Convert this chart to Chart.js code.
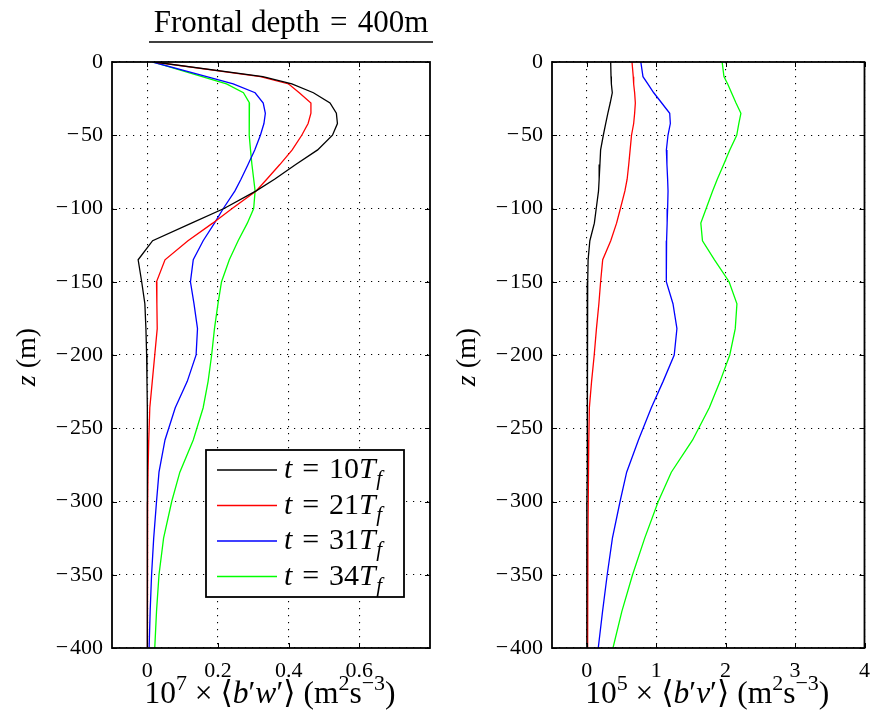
<!DOCTYPE html>
<html><head><meta charset="utf-8">
<script src="https://cdn.jsdelivr.net/npm/chart.js@4/dist/chart.umd.min.js"></script>
<style>
html,body{margin:0;padding:0;background:#fff;}
#wrap{position:relative;width:880px;height:722px;overflow:hidden;}
.pane{position:absolute;top:0;width:440px;height:722px;}
</style></head><body>
<div id="wrap">
<div class="pane" style="left:0"><canvas id="c1" width="440" height="722"></canvas></div>
<div class="pane" style="left:440px"><canvas id="c2" width="440" height="722"></canvas></div>
</div>
<script>
// ---- data (depth in m) ----
const depth = [0, -10, -15, -21, -28, -35, -42, -50, -60, -70, -80, -88, -100, -110, -122, -135, -150, -165, -182, -200, -218, -236, -258, -280, -300, -325, -350, -375, -400];
const times = [10, 21, 31, 34];
const colors = ['#000000', '#ff0000', '#0000ff', '#00ff00'];

// 10^7 x <b'w'>
const bwT10 = [0.02, 0.327, 0.409, 0.47, 0.517, 0.535, 0.538, 0.524, 0.482, 0.42, 0.36, 0.308, 0.217, 0.125, 0.015, -0.026, -0.016, -0.007, -0.004, -0.002, -0.001, 0, 0, 0, 0, 0, 0, 0, 0];
const bwT21 = [0.02, 0.32, 0.40, 0.43, 0.463, 0.463, 0.455, 0.437, 0.41, 0.375, 0.338, 0.308, 0.24, 0.185, 0.115, 0.05, 0.026, 0.027, 0.028, 0.021, 0.014, 0.007, 0.004, 0.002, 0.001, 0.001, 0, 0, 0];
const bwT31 = [0.015, 0.168, 0.243, 0.305, 0.328, 0.334, 0.33, 0.32, 0.304, 0.285, 0.265, 0.248, 0.215, 0.19, 0.158, 0.13, 0.122, 0.132, 0.142, 0.138, 0.113, 0.079, 0.05, 0.033, 0.026, 0.018, 0.012, 0.008, 0.005];
const bwT34 = [0.015, 0.155, 0.224, 0.272, 0.289, 0.289, 0.288, 0.288, 0.292, 0.296, 0.301, 0.305, 0.301, 0.283, 0.257, 0.232, 0.21, 0.2, 0.19, 0.182, 0.172, 0.158, 0.13, 0.092, 0.069, 0.046, 0.033, 0.026, 0.021];

// 10^5 x <b'v'>
const bvT10 = [0.345, 0.35, 0.355, 0.368, 0.338, 0.304, 0.273, 0.239, 0.2, 0.19, 0.179, 0.17, 0.137, 0.11, 0.045, 0.02, 0.014, 0.012, 0.01, 0.01, 0.008, 0.007, 0.005, 0.004, 0.003, 0.002, 0.002, 0.001, 0.0];
const bvT21 = [0.652, 0.67, 0.676, 0.69, 0.7, 0.69, 0.676, 0.645, 0.625, 0.605, 0.582, 0.55, 0.485, 0.43, 0.346, 0.23, 0.2, 0.175, 0.14, 0.108, 0.07, 0.038, 0.03, 0.024, 0.02, 0.017, 0.015, 0.013, 0.012];
const bvT31 = [0.779, 0.81, 0.88, 0.965, 1.08, 1.195, 1.204, 1.17, 1.147, 1.155, 1.165, 1.171, 1.165, 1.158, 1.15, 1.145, 1.147, 1.242, 1.299, 1.26, 1.1, 0.93, 0.745, 0.575, 0.48, 0.37, 0.295, 0.228, 0.166];
const bvT34 = [1.95, 1.976, 2.03, 2.085, 2.15, 2.22, 2.19, 2.16, 2.06, 1.972, 1.88, 1.813, 1.72, 1.643, 1.667, 1.84, 2.05, 2.163, 2.139, 2.06, 1.92, 1.765, 1.525, 1.218, 1.03, 0.835, 0.66, 0.506, 0.378];

// ticks
const bwTicks = [0, 0.2, 0.4, 0.6];
const bvTicks = [0, 1, 2, 3, 4];
const zTicks = [0, -50, -100, -150, -200, -250, -300, -350, -400];

// ---- helpers ----
const FF = '"Liberation Serif", "DejaVu Serif", serif';
function runFont(r, size) {
  const s = (r.sup || r.sub) ? size * 0.7 : size;
  return (r.it ? 'italic ' : '') + s.toFixed(1) + 'px ' + FF;
}
function runAdvance(ctx, r, size) {
  if (r.gap !== undefined) return r.gap * size;
  ctx.font = runFont(r, size);
  return ctx.measureText(r.t).width;
}
function runsWidth(ctx, runs, size) {
  let w = 0;
  for (const r of runs) w += runAdvance(ctx, r, size);
  return w;
}
function drawRuns(ctx, runs, x, y, size, align) {
  const w = runsWidth(ctx, runs, size);
  let cx = align === 'center' ? x - w / 2 : x;
  ctx.textAlign = 'left';
  ctx.textBaseline = 'alphabetic';
  ctx.fillStyle = '#000';
  for (const r of runs) {
    if (r.gap === undefined) {
      ctx.font = runFont(r, size);
      const dy = r.sup ? -0.4 * size : (r.sub ? 0.24 * size : 0);
      ctx.fillText(r.t, cx, y + dy);
    }
    cx += runAdvance(ctx, r, size);
  }
}
const fmtZ = v => v < 0 ? '\u2212\u200a' + Math.abs(v) : String(v);
const fmtBw = v => v === 0 ? '0' : (v < 0 ? '\u2212' : '') + Math.abs(v).toFixed(1);
const fmtBv = v => fmtZ(v);

function makeDatasets(series) {
  return series.map((vals, i) => ({
    label: 't = ' + times[i] + 'T_f',
    data: depth.map((z, k) => ({ x: vals[k], y: z })),
    showLine: true,
    borderColor: colors[i],
    backgroundColor: colors[i],
    borderWidth: 1.3,
    pointRadius: 0,
    tension: 0,
    fill: false
  }));
}

const framePlugin = {
  id: 'frame',
  afterDatasetsDraw(chart) {
    const { ctx, chartArea: a, scales } = chart;
    ctx.save();
    ctx.strokeStyle = '#000';
    ctx.lineWidth = 1;
    ctx.beginPath();
    for (const t of scales.x.ticks) {
      const px = Math.round(scales.x.getPixelForValue(t.value)) + 0.5;
      ctx.moveTo(px, a.bottom); ctx.lineTo(px, a.bottom - 5);
      ctx.moveTo(px, a.top); ctx.lineTo(px, a.top + 5);
    }
    for (const t of scales.y.ticks) {
      const py = Math.round(scales.y.getPixelForValue(t.value)) + 0.5;
      ctx.moveTo(a.left, py); ctx.lineTo(a.left + 5, py);
      ctx.moveTo(a.right, py); ctx.lineTo(a.right - 5, py);
    }
    ctx.stroke();
    ctx.lineWidth = 1.8;
    ctx.strokeRect(a.left, a.top, a.right - a.left, a.bottom - a.top);
    ctx.restore();
  }
};

function axisTitlesPlugin(xRuns) {
  return {
    id: 'axisTitles',
    afterDraw(chart) {
      const { ctx, chartArea: a } = chart;
      ctx.save();
      drawRuns(ctx, xRuns, (a.left + a.right) / 2 - 1, 703, 31.5, 'center');
      ctx.translate(35, (a.top + a.bottom) / 2 + 2);
      ctx.rotate(-Math.PI / 2);
      drawRuns(ctx, [{ t: 'z', it: true }, { t: ' (m)' }], 0, 0, 28, 'center');
      ctx.restore();
    }
  };
}

const titlePlugin = {
  id: 'mainTitle',
  afterDraw(chart) {
    const ctx = chart.ctx;
    ctx.save();
    const runs = [{ t: 'Frontal depth' }, { gap: 0.33 }, { t: '=' }, { gap: 0.33 }, { t: '400m' }];
    drawRuns(ctx, runs, 291, 32, 31, 'center');
    ctx.strokeStyle = '#000';
    ctx.lineWidth = 1.5;
    ctx.beginPath();
    ctx.moveTo(149, 42); ctx.lineTo(433, 42);
    ctx.stroke();
    ctx.restore();
  }
};

const legendPlugin = {
  id: 'texLegend',
  afterDraw(chart) {
    const ctx = chart.ctx;
    ctx.save();
    const bx = 206, by = 450, bw = 198, bh = 147;
    ctx.fillStyle = '#fff';
    ctx.fillRect(bx, by, bw, bh);
    ctx.strokeStyle = '#000';
    ctx.lineWidth = 1.8;
    ctx.strokeRect(bx, by, bw, bh);
    chart.data.datasets.forEach((ds, i) => {
      const cy = 470 + i * 35.5;
      ctx.strokeStyle = ds.borderColor;
      ctx.lineWidth = 1.3;
      ctx.beginPath();
      ctx.moveTo(217, cy); ctx.lineTo(277, cy);
      ctx.stroke();
      drawRuns(ctx, [
        { t: 't', it: true }, { gap: 0.33 }, { t: '=' }, { gap: 0.33 }, { t: String(times[i]) },
        { t: 'T', it: true }, { gap: 0.02 }, { t: 'f', it: true, sub: true }
      ], 284, cy + 8, 30, 'left');
    });
    ctx.restore();
  }
};

function baseOptions(xmin, xmax, xTicks, fmtX) {
  const tickFont = { family: FF, size: 22, lineHeight: 1.2 };
  const gridCfg = { color: '#000', lineWidth: 1.1, drawTicks: false };
  const borderCfg = { display: false, dash: [1.2, 5.8] };
  return {
    responsive: false,
    animation: false,
    devicePixelRatio: 1,
    layout: { padding: { top: 62, right: 10, left: 0, bottom: 0 } },
    plugins: { legend: { display: false }, tooltip: { enabled: false }, title: { display: false } },
    scales: {
      x: {
        type: 'linear', min: xmin, max: xmax,
        afterBuildTicks: s => { s.ticks = xTicks.map(v => ({ value: v })); },
        afterFit: s => { s.height = 74; },
        ticks: { font: tickFont, color: '#000', padding: 10, maxRotation: 0, autoSkip: false, callback: v => fmtX(v) },
        grid: gridCfg, border: borderCfg
      },
      y: {
        type: 'linear', min: -400, max: 0,
        afterBuildTicks: s => { s.ticks = zTicks.map(v => ({ value: v })); },
        afterFit: s => { s.width = 112; },
        ticks: { font: tickFont, color: '#000', padding: 9, autoSkip: false, callback: v => fmtZ(v) },
        grid: gridCfg, border: borderCfg
      }
    }
  };
}

new Chart(document.getElementById('c1'), {
  type: 'scatter',
  data: { datasets: makeDatasets([bwT10, bwT21, bwT31, bwT34]) },
  options: baseOptions(-0.1, 0.8, bwTicks, fmtBw),
  plugins: [framePlugin, axisTitlesPlugin([
    { t: '10' }, { t: '7', sup: true }, { t: ' \u00d7 \u27e8' }, { t: 'b', it: true }, { t: '\u2032' },
    { t: 'w', it: true }, { t: '\u2032\u27e9 (m' }, { t: '2', sup: true }, { t: 's' }, { t: '\u22123', sup: true }, { t: ')' }
  ]), titlePlugin, legendPlugin]
});

new Chart(document.getElementById('c2'), {
  type: 'scatter',
  data: { datasets: makeDatasets([bvT10, bvT21, bvT31, bvT34]) },
  options: baseOptions(-0.5, 4, bvTicks, fmtBv),
  plugins: [framePlugin, axisTitlesPlugin([
    { t: '10' }, { t: '5', sup: true }, { t: ' \u00d7 \u27e8' }, { t: 'b', it: true }, { t: '\u2032' },
    { t: 'v', it: true }, { t: '\u2032\u27e9 (m' }, { t: '2', sup: true }, { t: 's' }, { t: '\u22123', sup: true }, { t: ')' }
  ])]
});
</script>
</body></html>
